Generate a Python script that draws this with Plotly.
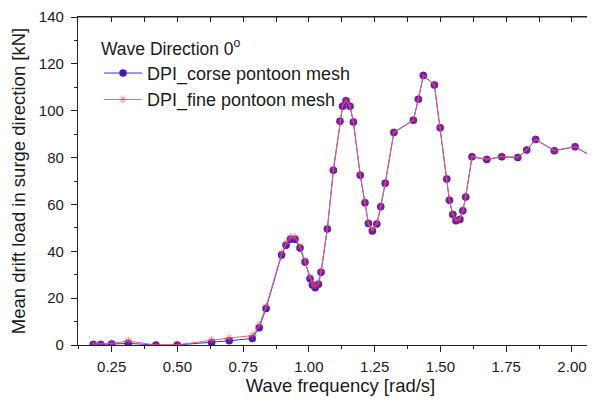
import plotly.graph_objects as go

freq = [0.180, 0.209, 0.250, 0.313, 0.418, 0.499, 0.630, 0.697, 0.785, 0.811, 0.837,
        0.896, 0.913, 0.930, 0.947, 0.966, 0.985, 1.004, 1.013, 1.024, 1.036, 1.046,
        1.070, 1.093, 1.118, 1.128, 1.141, 1.156, 1.169, 1.195, 1.213, 1.226, 1.241,
        1.258, 1.273, 1.290, 1.323, 1.397, 1.416, 1.435, 1.477, 1.499, 1.524, 1.534,
        1.547, 1.559, 1.574, 1.585, 1.596, 1.620, 1.676, 1.733, 1.794, 1.828, 1.862,
        1.933, 2.012, 2.088]

coarse = [0.2, 0.2, 0.4, 0.7, 0.0, 0.0, 1.1, 1.8, 2.8, 7.4, 15.6,
          38.4, 42.6, 45.1, 45.1, 41.4, 35.4, 28.3, 25.6, 24.4, 25.9, 31.0,
          49.5, 74.6, 95.5, 101.9, 104.2, 101.9, 95.2, 72.5, 60.7, 51.9, 48.7,
          51.6, 59.0, 69.0, 90.7, 95.9, 104.9, 115.0, 111.0, 92.7, 70.9, 61.8,
          55.7, 53.0, 53.6, 57.3, 63.2, 80.3, 79.2, 80.3, 80.0, 83.2, 87.7,
          82.9, 84.6, 79.6]

fine = [0.4, 0.5, 0.7, 1.7, 0.0, 0.1, 2.1, 3.0, 4.0, 8.4, 16.4,
        39.0, 43.3, 46.0, 46.0, 42.0, 35.9, 28.8, 26.0, 25.0, 26.4, 31.4,
        49.8, 74.8, 95.7, 102.2, 104.4, 102.1, 95.4, 72.6, 60.8, 52.0, 48.9,
        51.8, 59.2, 69.1, 90.8, 96.0, 105.0, 115.1, 111.1, 92.8, 71.0, 61.9,
        55.8, 53.2, 53.8, 57.4, 63.3, 80.4, 79.3, 80.4, 80.1, 83.3, 87.8,
        83.0, 84.7, 79.7]

x_range = [0.122, 2.118]
y_range = [0, 140]

FONT = "Liberation Sans, Arial, sans-serif"
AX = "#222222"

fig = go.Figure()
fig.add_trace(go.Scatter(
    x=freq, y=coarse, mode="lines+markers", name="DPI_corse pontoon mesh",
    line=dict(color="#3030ff", width=1),
    marker=dict(symbol="circle", size=7.5, color="#4518b8"),
))
fig.add_trace(go.Scatter(
    x=freq, y=fine, mode="lines+markers", name="DPI_fine pontoon mesh",
    line=dict(color="#ee6070", width=1),
    marker=dict(symbol="asterisk-open", size=7, color="rgba(230,60,110,0.6)",
                line=dict(width=1, color="rgba(230,60,110,0.6)")),
))
# invisible point so the top axis is drawn
fig.add_trace(go.Scatter(x=freq[:1], y=coarse[:1], xaxis="x2", yaxis="y",
                         mode="markers", marker=dict(opacity=0),
                         showlegend=False, hoverinfo="skip"))

# top frame line of the plot area
fig.add_shape(type="line", xref="paper", yref="paper", x0=0, x1=1, y0=1, y1=1,
              line=dict(color=AX, width=1.2), layer="above")

fig.update_layout(
    width=595, height=406,
    margin=dict(l=70, r=0, t=9, b=69, autoexpand=False),
    paper_bgcolor="white", plot_bgcolor="white",
    font=dict(family=FONT, color="#1a1a1a"),
    showlegend=True,
    legend=dict(
        title=dict(text="Wave Direction 0<sup>o</sup>", font=dict(size=17.5)),
        font=dict(size=18),
        x=0.04, y=0.954, xanchor="left", yanchor="top",
        bgcolor="rgba(0,0,0,0)", tracegroupgap=0, itemwidth=38,
    ),
    xaxis=dict(
        range=x_range, showgrid=False, zeroline=False,
        showline=True, mirror=True, linecolor=AX, linewidth=1.2,
        tick0=0.25, dtick=0.25, tickformat=".2f",
        ticks="outside", ticklen=6, tickcolor=AX,
        minor=dict(ticks="outside", ticklen=3, dtick=0.125, tick0=0.125, tickcolor=AX),
        tickfont=dict(size=15), ticklabelstandoff=2,
        title=dict(text="Wave frequency [rad/s]", font=dict(size=18.5), standoff=4),
    ),
    xaxis2=dict(
        range=x_range, overlaying="x", anchor="y", side="top",
        showgrid=False, zeroline=False, showline=False,
        tick0=0.125, dtick=0.125, showticklabels=False,
        ticks="inside", ticklen=5, tickcolor=AX, tickwidth=1.2,
    ),
    yaxis=dict(
        range=y_range, showgrid=False, zeroline=False,
        showline=True, linecolor=AX, linewidth=1.2,
        tick0=0, dtick=20,
        ticks="outside", ticklen=6, tickcolor=AX,
        minor=dict(ticks="outside", ticklen=3, dtick=10, tickcolor=AX),
        tickfont=dict(size=15), ticklabelstandoff=4,
        title=dict(text="Mean drift load in surge direction [kN]", font=dict(size=18.5), standoff=13),
    ),
)

fig.write_html("out.html")
